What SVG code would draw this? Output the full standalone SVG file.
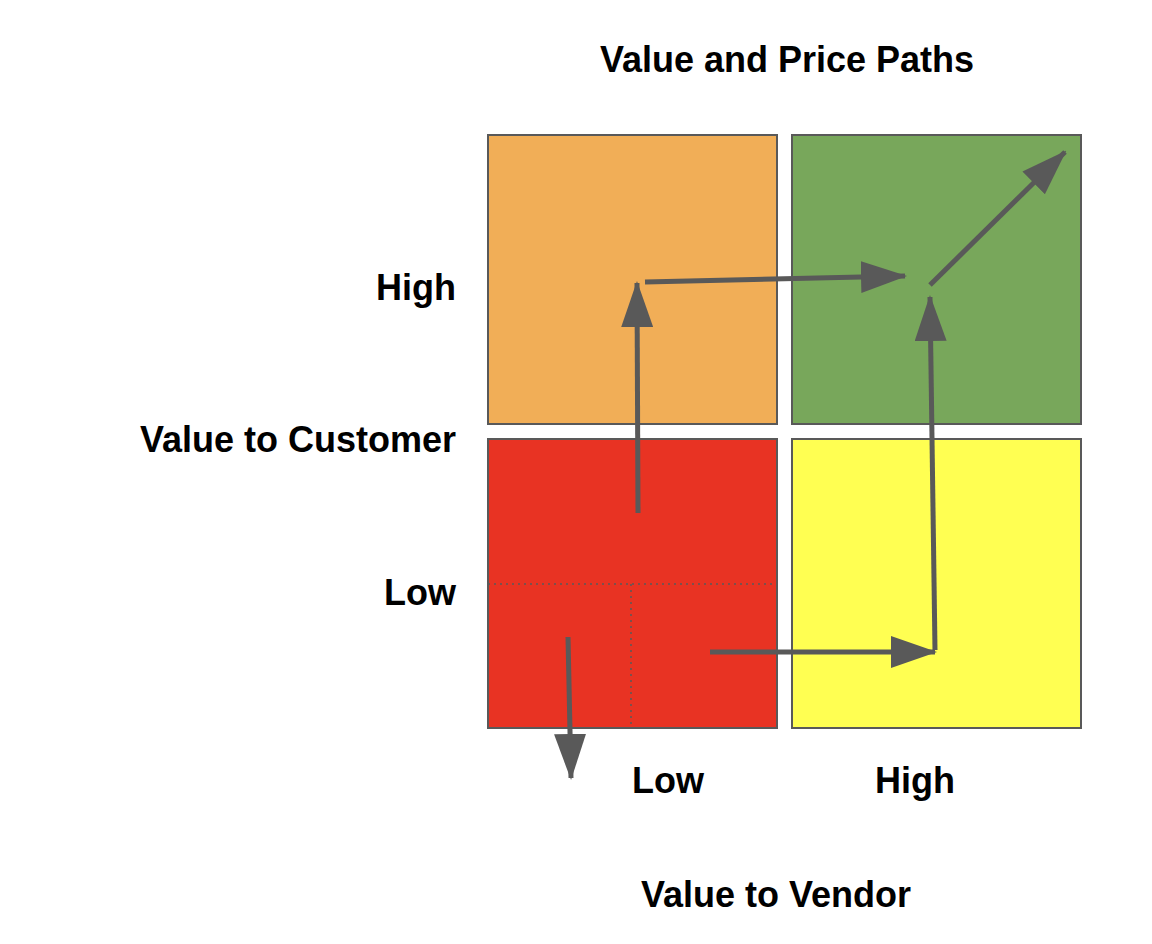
<svg xmlns="http://www.w3.org/2000/svg" width="1152" height="944" viewBox="0 0 1152 944">
<style>
text{font-family:"Liberation Sans",Arial,sans-serif;font-weight:bold;font-size:36px;fill:#000}
.box{stroke:#595959;stroke-width:2}
.arr{stroke:#595959;stroke-width:5;fill:none;marker-end:url(#ah)}
.dot{stroke:#595959;stroke-width:1.5;stroke-dasharray:2 4;fill:none}
</style>
<defs>
<marker id="ah" markerUnits="userSpaceOnUse" markerWidth="46" markerHeight="32" refX="44" refY="16" orient="auto">
<polygon points="0,0 46,16 0,32" fill="#595959"/>
</marker>
</defs>
<rect width="1152" height="944" fill="#fff"/>
<text x="787" y="72" text-anchor="middle">Value and Price Paths</text>
<g id="q-orange"><rect class="box" x="488" y="135" width="289" height="289" fill="#f1ae57"/></g>
<g id="q-green"><rect class="box" x="792" y="135" width="289" height="289" fill="#78a75b"/></g>
<g id="q-red"><rect class="box" x="488" y="439" width="289" height="289" fill="#e83323"/>
<path class="dot" d="M488 584H777M631 584V728"/></g>
<g id="q-yellow"><rect class="box" x="792" y="439" width="289" height="289" fill="#ffff52"/></g>
<g id="labels">
<text x="456" y="300" text-anchor="end">High</text>
<text x="456" y="452" text-anchor="end">Value to Customer</text>
<text x="456" y="605" text-anchor="end">Low</text>
<text x="668" y="793" text-anchor="middle">Low</text>
<text x="915" y="793" text-anchor="middle">High</text>
<text x="776" y="907" text-anchor="middle">Value to Vendor</text>
</g>
<g id="connectors">
<line class="arr" x1="638" y1="513" x2="637" y2="283"/>
<line class="arr" x1="645" y1="282" x2="905" y2="276"/>
<line class="arr" x1="930" y1="285" x2="1065" y2="152"/>
<line class="arr" x1="935" y1="650" x2="930" y2="297"/>
<line class="arr" x1="710" y1="652" x2="935" y2="652"/>
<line class="arr" x1="568" y1="637" x2="571" y2="778"/>
</g>
</svg>
